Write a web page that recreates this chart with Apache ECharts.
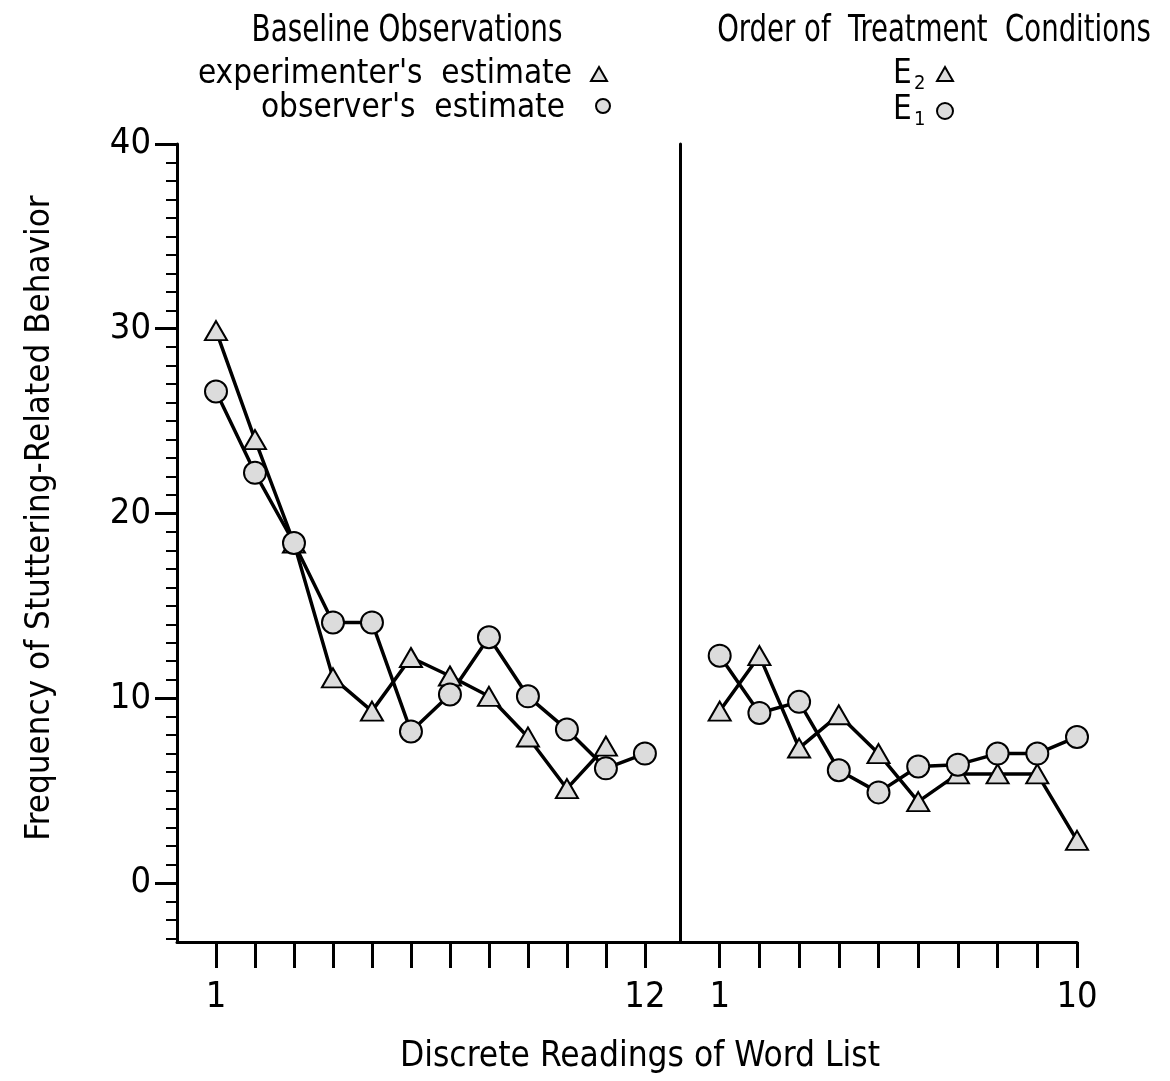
<!DOCTYPE html>
<html>
<head>
<meta charset="utf-8">
<script src="https://cdn.jsdelivr.net/npm/echarts@6/dist/echarts.min.js"></script>
<style>
  html, body { margin: 0; padding: 0; background: #fff; }
  #chart { width: 1170px; height: 1081px; }
</style>
</head>
<body>
<div id="chart"></div>
<script>
// baseline panel
var baseReadings = [1, 2, 3, 4, 5, 6, 7, 8, 9, 10, 11, 12];
var experimenterEst = [29.9, 24.0, 18.4, 11.1, 9.3, 12.2, 11.2, 10.1, 7.9, 5.1, 7.4];
var observerEst = [26.6, 22.2, 18.4, 14.1, 14.1, 8.2, 10.2, 13.3, 10.1, 8.3, 6.2, 7.0];

// treatment panel
var treatReadings = [1, 2, 3, 4, 5, 6, 7, 8, 9, 10];
var e2Values = [9.3, 12.3, 7.3, 9.1, 7.0, 4.4, 5.9, 5.9, 5.9, 2.3];
var e1Values = [12.3, 9.2, 9.8, 6.1, 4.9, 6.3, 6.4, 7.0, 7.0, 7.9];

var yMajor = [0, 10, 20, 30, 40];
var yMinor = [];
for (var v = -3; v <= 40; v++) yMinor.push(v);

var FONT = '"Liberation Sans Narrow", "DejaVu Sans Condensed", sans-serif';

function zip(xs, ys) {
  return ys.map(function (y, i) { return [xs[i], y]; });
}

var chart = echarts.init(document.getElementById('chart'));

var markerStyle = {
  color: '#dcdcdc',
  borderColor: '#000',
  borderWidth: 2
};

function lineSeries(name, xi, yi, data, symbol, size) {
  return {
    name: name,
    type: 'line',
    xAxisIndex: xi,
    yAxisIndex: yi,
    data: data,
    symbol: symbol,
    symbolSize: size,
    showAllSymbol: true,
    lineStyle: { color: '#000', width: 3.5 },
    itemStyle: markerStyle,
    z: 3
  };
}

function xAxisFor(grid, max, ticks, labels) {
  return {
    type: 'value',
    gridIndex: grid,
    min: 0,
    max: max,
    axisLine: { show: true, onZero: false, lineStyle: { color: '#000', width: 3 } },
    axisTick: { show: true, customValues: ticks, length: 26, lineStyle: { color: '#000', width: 3 } },
    axisLabel: { show: true, customValues: labels, margin: 38, color: '#000', fontSize: 36, fontFamily: FONT },
    splitLine: { show: false }
  };
}

function label(text, x, y, size, align, extra) {
  var el = {
    type: 'text', x: x, y: y,
    style: { text: text, font: size + 'px ' + FONT, fill: '#000', textAlign: align, textVerticalAlign: 'middle' }
  };
  if (extra) for (var k in extra) el[k] = extra[k];
  return el;
}

var option = {
  animation: false,
  backgroundColor: '#fff',
  grid: [
    { left: 177, top: 144, width: 503, height: 798 },
    { left: 680, top: 144, width: 397, height: 798 }
  ],
  xAxis: [
    xAxisFor(0, 12.9, baseReadings, [1, 12]),
    xAxisFor(1, 10, treatReadings, [1, 10])
  ],
  yAxis: [
    {
      type: 'value', gridIndex: 0, min: -3.2, max: 40, position: 'left',
      axisLine: { show: true, lineStyle: { color: '#000', width: 3 } },
      axisTick: { show: true, customValues: yMinor, length: 11, lineStyle: { color: '#000', width: 2 } },
      axisLabel: { show: false },
      splitLine: { show: false }
    },
    {
      type: 'value', gridIndex: 0, min: -3.2, max: 40, position: 'left', offset: 0,
      axisLine: { show: false },
      axisTick: { show: true, customValues: yMajor, length: 22, lineStyle: { color: '#000', width: 3 } },
      axisLabel: { show: true, customValues: yMajor, margin: 26, color: '#000', fontSize: 36, fontFamily: FONT },
      splitLine: { show: false }
    },
    {
      type: 'value', gridIndex: 1, min: -3.2, max: 40, position: 'left',
      axisLine: { show: true, lineStyle: { color: '#000', width: 3 } },
      axisTick: { show: false },
      axisLabel: { show: false },
      splitLine: { show: false }
    }
  ],
  series: [
    lineSeries("experimenter's estimate", 0, 0, zip(baseReadings, experimenterEst), 'triangle', [22, 19]),
    lineSeries("observer's estimate", 0, 0, zip(baseReadings, observerEst), 'circle', 22),
    lineSeries('E2', 1, 2, zip(treatReadings, e2Values), 'triangle', [22, 19]),
    lineSeries('E1', 1, 2, zip(treatReadings, e1Values), 'circle', 22)
  ],
  graphic: [
    // left header
    label('Baseline Observations', 407, 31, 34, 'center', { scaleX: 0.91, scaleY: 1.1 }),
    label("experimenter's  estimate", 572, 74, 33, 'right'),
    label("observer's  estimate", 565, 108, 33, 'right'),
    { type: 'polygon', shape: { points: [[599, 67], [607, 81], [591, 81]] }, style: { fill: '#dcdcdc', stroke: '#000', lineWidth: 2 } },
    { type: 'circle', shape: { cx: 603, cy: 106, r: 7 }, style: { fill: '#dcdcdc', stroke: '#000', lineWidth: 2 } },
    // right header
    label('Order of  Treatment  Conditions', 934, 31, 34, 'center', { scaleX: 0.9, scaleY: 1.1 }),
    label('E', 893, 74, 33, 'left'),
    label('2', 914, 84, 20, 'left'),
    label('E', 893, 110, 33, 'left'),
    label('1', 914, 120, 20, 'left'),
    { type: 'polygon', shape: { points: [[945, 67], [953, 81], [937, 81]] }, style: { fill: '#dcdcdc', stroke: '#000', lineWidth: 2 } },
    { type: 'circle', shape: { cx: 945, cy: 111, r: 8 }, style: { fill: '#dcdcdc', stroke: '#000', lineWidth: 2 } },
    // axis titles
    label('Frequency of Stuttering-Related Behavior', 40, 518, 34, 'center', { rotation: Math.PI / 2, scaleX: 1.02 }),
    label('Discrete Readings of Word List', 640, 1057, 35, 'center')
  ]
};

chart.setOption(option);
</script>
</body>
</html>
